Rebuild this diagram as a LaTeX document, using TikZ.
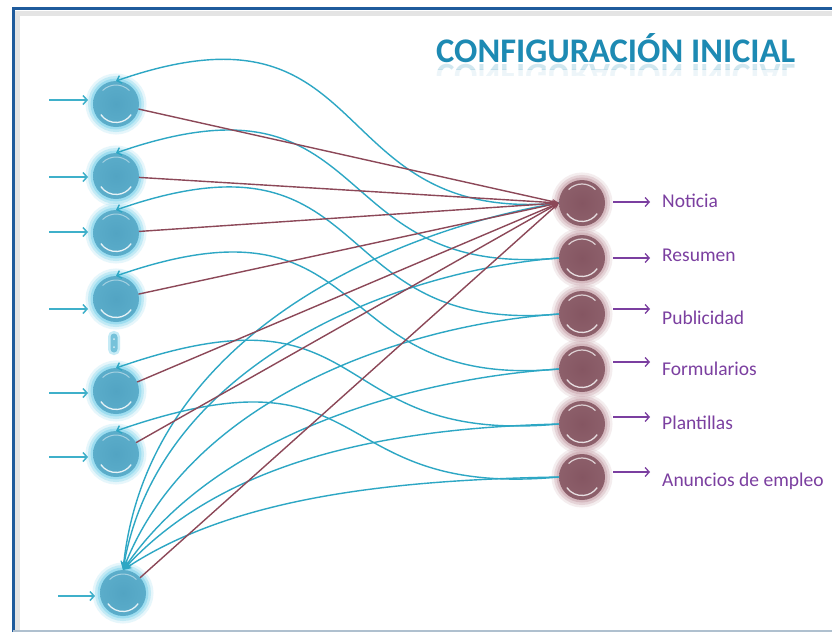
\documentclass[tikz,border=0pt]{standalone}
\usepackage{fontspec}
\setmainfont{Carlito}
\usepackage{graphicx}
\usetikzlibrary{arrows.meta,calc}

\definecolor{framec}{HTML}{1F5B9C}
\definecolor{framelt}{HTML}{AFC0CF}
\definecolor{titlec}{HTML}{1D8AB3}
\definecolor{bcurve}{HTML}{2DA7C4}
\definecolor{brownl}{HTML}{8C4858}
\definecolor{purp}{HTML}{7B3FA0}
\definecolor{inarrc}{HTML}{3FB0CA}
\definecolor{lb1}{HTML}{52A4C3}
\definecolor{lb2}{HTML}{5CAECB}
\definecolor{lb3}{HTML}{76C2DA}
\definecolor{lb4}{HTML}{B2E6F4}
\definecolor{lb5}{HTML}{E0F8FD}
\definecolor{lglow}{HTML}{8ED8EE}
\definecolor{rb1}{HTML}{855662}
\definecolor{rb2}{HTML}{8E616C}
\definecolor{rb3}{HTML}{A27A84}
\definecolor{rb4}{HTML}{D2B4BB}
\definecolor{rb5}{HTML}{F1E4E7}
\definecolor{rglow}{HTML}{CFAEB5}

\pgfdeclareradialshading{lballsh}{\pgfpoint{0bp}{0bp}}{color(0bp)=(lb1); color(28bp)=(lb2); color(40bp)=(lb3); color(46bp)=(lb4); color(50bp)=(lb5)}
\pgfdeclareradialshading{rballsh}{\pgfpoint{0bp}{0bp}}{color(0bp)=(rb1); color(28bp)=(rb2); color(40bp)=(rb3); color(46bp)=(rb4); color(50bp)=(rb5)}

\tikzset{
  lball/.style={circle, minimum size=46pt, inner sep=0pt, outer sep=0pt,
    preaction={draw=lglow, draw opacity=0.22, line width=15pt},
    preaction={draw=lglow, draw opacity=0.4, line width=10pt},
    preaction={draw=lglow, draw opacity=0.7, line width=5pt},
    shading=lballsh,
    path picture={
      \draw[white, line width=1.3pt, opacity=0.85] ($(path picture bounding box.center)+(215:18.5pt)$) arc[start angle=215, end angle=325, radius=18.5pt];
      \draw[white, line width=1pt, opacity=0.45] ($(path picture bounding box.center)+(45:19pt)$) arc[start angle=45, end angle=135, radius=19pt];
    }},
  rball/.style={circle, minimum size=46pt, inner sep=0pt, outer sep=0pt,
    preaction={draw=rglow, draw opacity=0.22, line width=15pt},
    preaction={draw=rglow, draw opacity=0.4, line width=10pt},
    preaction={draw=rglow, draw opacity=0.7, line width=5pt},
    shading=rballsh,
    path picture={
      \draw[white, line width=1.3pt, opacity=0.8] ($(path picture bounding box.center)+(215:18.5pt)$) arc[start angle=215, end angle=325, radius=18.5pt];
      \draw[white, line width=1.2pt, opacity=0.7] ($(path picture bounding box.center)+(45:19pt)$) arc[start angle=45, end angle=135, radius=19pt];
    }},
  dotsbox/.style={rectangle, rounded corners=3.5pt, minimum width=7pt, minimum height=19pt, inner sep=0pt, fill=lb3,
    preaction={draw=lglow, draw opacity=0.5, line width=5pt, rounded corners=3.5pt},
    path picture={
      \fill[white, opacity=0.7] ($(path picture bounding box.center)+(0,4pt)$) circle[radius=1pt];
      \fill[white, opacity=0.7] ($(path picture bounding box.center)+(0,-4pt)$) circle[radius=1pt];
    }},
  titl/.style={font=\fontsize{34.5}{40}\selectfont\bfseries, text=titlec, anchor=base west, inner sep=0pt},
  lab/.style={font=\fontsize{19.5}{22}\selectfont, text=purp, anchor=base west, inner sep=0pt},
  brn/.style={draw=brownl, line width=1.4pt, -{Stealth[length=7pt,width=5pt]}},
  bS/.style={draw=bcurve, line width=1.4pt, -{Straight Barb[length=4pt,width=8pt]}},
  bF/.style={draw=bcurve, line width=1.4pt, -{Stealth[length=9pt,width=7pt]}},
  inarr/.style={draw=inarrc, line width=1.5pt, -{Straight Barb[length=4pt,width=9pt]}},
  parr/.style={draw=purp, line width=1.3pt, -{Straight Barb[length=4pt,width=9pt]}},
}

\begin{document}
\begin{tikzpicture}[x=1pt,y=-1pt]
\useasboundingbox (0,0) rectangle (832,632);
\fill[white] (0,0) rectangle (832,632);

% frame
\draw[black!30, line width=5pt, opacity=0.35] (17.5,632) -- (17.5,13) -- (832,13);
\draw[framec, line width=3pt] (13,632) -- (13,8.5) -- (832,8.5);
\draw[framelt, line width=2pt] (13,630.5) -- (832,630.5);

% title and its faint reflection
\node[titl] (T) at (436,62) {CONFIGURACIÓN INICIAL};
\begin{scope}
\clip (420,63) rectangle (820,69);
\node[titl, opacity=0.2] (TR) at (436,64) {\scalebox{1}[-1]{CONFIGURACIÓN INICIAL}};
\end{scope}
\begin{scope}
\clip (420,69) rectangle (820,75);
\node[titl, opacity=0.08] (TR2) at (436,64) {\scalebox{1}[-1]{CONFIGURACIÓN INICIAL}};
\end{scope}

% left nodes
\node[lball] (L1) at (116,104) {};
\node[lball] (L2) at (116,176) {};
\node[lball] (L3) at (116,233) {};
\node[lball] (L4) at (116,299) {};
\node[dotsbox] (D) at (114,343) {};
\node[lball] (L5) at (116,391) {};
\node[lball] (L6) at (116,454) {};
\node[lball] (L7) at (123,593) {};

% right nodes
\node[rball] (R1) at (582,203) {};
\node[rball] (R2) at (582,258) {};
\node[rball] (R3) at (582,314) {};
\node[rball] (R4) at (582,369) {};
\node[rball] (R5) at (582,424) {};
\node[rball] (R6) at (582,477) {};

% labels
\node[lab] (N1) at (662,207.7) {Noticia};
\node[lab] (N2) at (662,261.7) {Resumen};
\node[lab] (N3) at (662,324) {Publicidad};
\node[lab] (N4) at (662,375) {Formularios};
\node[lab] (N5) at (662,429) {Plantillas};
\node[lab] (N6) at (662,486.7) {Anuncios de empleo};

% label arrows
\draw[parr] ([xshift=8pt,yshift=1pt]R1.east) -- ([xshift=45pt,yshift=1pt]R1.east);
\draw[parr] ([xshift=8pt]R2.east) -- ([xshift=45pt]R2.east);
\draw[parr] ([xshift=8pt,yshift=5pt]R3.east) -- ([xshift=45pt,yshift=5pt]R3.east);
\draw[parr] ([xshift=8pt,yshift=7pt]R4.east) -- ([xshift=45pt,yshift=7pt]R4.east);
\draw[parr] ([xshift=8pt,yshift=7pt]R5.east) -- ([xshift=45pt,yshift=7pt]R5.east);
\draw[parr] ([xshift=8pt,yshift=5pt]R6.east) -- ([xshift=45pt,yshift=5pt]R6.east);

% input arrows
\draw[inarr] ([xshift=-44pt,yshift=4pt]L1.west) -- ([xshift=-5pt,yshift=4pt]L1.west);
\draw[inarr] ([xshift=-44pt,yshift=-1pt]L2.west) -- ([xshift=-5pt,yshift=-1pt]L2.west);
\draw[inarr] ([xshift=-44pt,yshift=1pt]L3.west) -- ([xshift=-5pt,yshift=1pt]L3.west);
\draw[inarr] ([xshift=-44pt,yshift=-10pt]L4.west) -- ([xshift=-5pt,yshift=-10pt]L4.west);
\draw[inarr] ([xshift=-44pt,yshift=-2pt]L5.west) -- ([xshift=-5pt,yshift=-2pt]L5.west);
\draw[inarr] ([xshift=-44pt,yshift=-3pt]L6.west) -- ([xshift=-5pt,yshift=-3pt]L6.west);
\draw[inarr] ([xshift=-42pt,yshift=-3pt]L7.west) -- ([xshift=-5pt,yshift=-3pt]L7.west);

% blue S-curves back to each left node
\draw[bS] (R1.west) .. controls (320,225) and (380,-11) .. (L1.north);
\draw[bS] (R2.west) .. controls (320,280) and (380,61) .. (L2.north);
\draw[bS] (R3.west) .. controls (320,336) and (380,118) .. (L3.north);
\draw[bS] (R4.west) .. controls (320,391) and (380,184) .. (L4.north);
\draw[bS] (R5.west) .. controls (320,446) and (380,276) .. (L5.north);
\draw[bS] (R6.west) .. controls (320,499) and (380,339) .. (L6.north);

% blue fan to the last node
\draw[bF] (R1.west) .. controls (420,225) and (150,320) .. (L7.north);
\draw[bF] (R2.west) .. controls (400,270) and (160,360) .. (L7.north);
\draw[bF] (R3.west) .. controls (400,325) and (190,400) .. (L7.north);
\draw[bF] (R4.west) .. controls (420,378) and (220,430) .. (L7.north);
\draw[bF] (R5.west) .. controls (400,428) and (230,455) .. (L7.north);
\draw[bF] (R6.west) .. controls (380,480) and (230,500) .. (L7.north);

% brown lines to the first output
\draw[brn] (L1) -- (R1.west);
\draw[brn] (L2) -- (R1.west);
\draw[brn] (L3) -- (R1.west);
\draw[brn] (L4) -- (R1.west);
\draw[brn] (L5) -- (R1.west);
\draw[brn] (L6) -- (R1.west);
\draw[brn] (L7) -- (R1.west);
\end{tikzpicture}
\end{document}
